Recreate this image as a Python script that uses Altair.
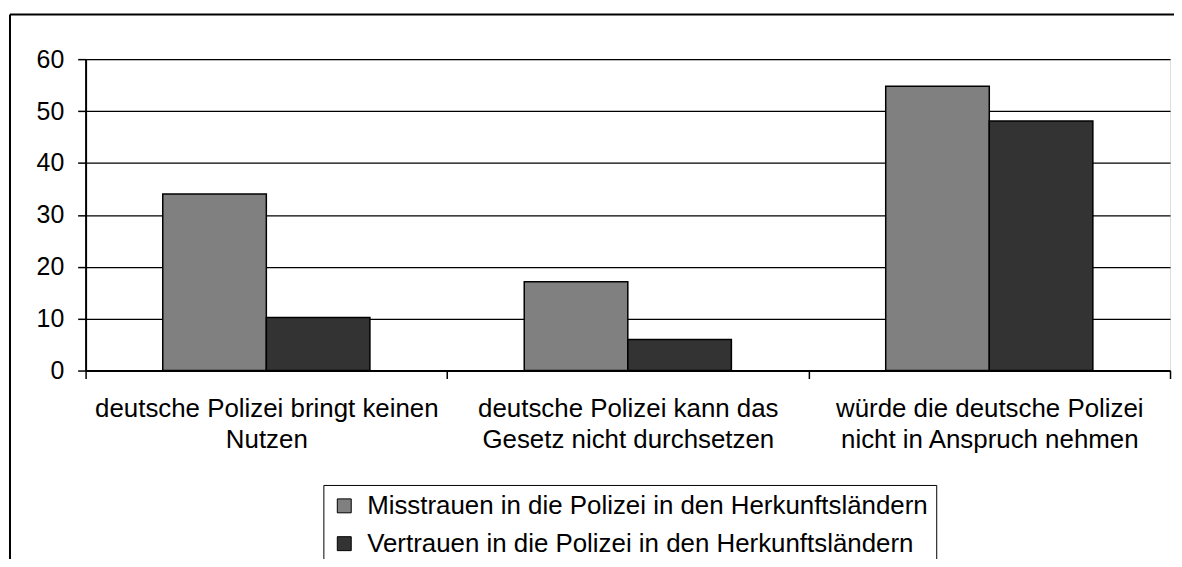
import altair as alt
import pandas as pd

categories = [
    "deutsche Polizei bringt keinen\nNutzen",
    "deutsche Polizei kann das\nGesetz nicht durchsetzen",
    "würde die deutsche Polizei\nnicht in Anspruch nehmen",
]
series = [
    "Misstrauen in die Polizei in den Herkunftsländern",
    "Vertrauen in die Polizei in den Herkunftsländern",
]
misstrauen = [34.0, 17.1, 54.8]
vertrauen = [10.2, 6.0, 48.1]
y_ticks = [0, 10, 20, 30, 40, 50, 60]
colors = ["#808080", "#333333"]

rows = []
for c, m, v in zip(categories, misstrauen, vertrauen):
    rows.append({"Kategorie": c, "Reihe": series[0], "Wert": m})
    rows.append({"Kategorie": c, "Reihe": series[1], "Wert": v})
df = pd.DataFrame(rows)

FONT = "Liberation Sans"

bars = alt.Chart(df).mark_bar(stroke="black", strokeWidth=1.5).encode(
    x=alt.X(
        "Kategorie:N",
        sort=categories,
        scale=alt.Scale(paddingInner=0, paddingOuter=0),
        axis=alt.Axis(
            title=None,
            labelAngle=0,
            labelFontSize=26,
            labelLineHeight=31,
            labelPadding=17,
            labelLimit=500,
            labelColor="black",
            labelFont=FONT,
            labelExpr="split(datum.label, '\\n')",
            tickBand="extent",
            tickSize=8,
            tickColor="black",
            tickWidth=1.5,
            domainColor="black",
            domainWidth=2,
            grid=False,
        ),
    ),
    xOffset=alt.XOffset(
        "Reihe:N",
        sort=series,
        scale=alt.Scale(paddingInner=0, paddingOuter=0.745),
    ),
    y=alt.Y(
        "Wert:Q",
        scale=alt.Scale(domain=[0, 60], nice=False),
        axis=alt.Axis(
            title=None,
            values=y_ticks,
            labelFontSize=25,
            labelPadding=14,
            labelColor="black",
            labelFont=FONT,
            tickSize=8,
            tickColor="black",
            tickWidth=1.5,
            domainColor="black",
            domainWidth=2,
            grid=True,
            gridColor="black",
            gridWidth=1.3,
        ),
    ),
    fill=alt.Fill(
        "Reihe:N",
        sort=series,
        scale=alt.Scale(domain=series, range=colors),
        legend=alt.Legend(
            title=None,
            orient="none",
            legendX=239,
            legendY=428,
            direction="vertical",
            columns=1,
            symbolType="square",
            symbolSize=196,
            symbolStrokeColor="black",
            symbolStrokeWidth=1,
            labelFontSize=26,
            labelFont=FONT,
            labelColor="black",
            labelLimit=800,
            labelOffset=10,
            rowPadding=12,
            padding=8,
            strokeColor="black",
            fillColor="white",
        ),
    ),
)

frame_df = pd.DataFrame({"a": [0]})
frame_top = alt.Chart(frame_df).mark_rule(color="black", strokeWidth=2).encode(
    x=alt.value(-76), x2=alt.value(1200), y=alt.value(-45)
)
frame_left = alt.Chart(frame_df).mark_rule(color="black", strokeWidth=2).encode(
    x=alt.value(-76), y=alt.value(-45), y2=alt.value(700)
)

chart = alt.layer(frame_top, frame_left, bars).properties(
    width=1090,
    height=313,
    autosize=alt.AutoSizeParams(type="none"),
    padding={"left": 78, "top": 50, "right": 4, "bottom": 188},
    background="white",
).configure_view(
    stroke="#808080", strokeWidth=2
).configure(font=FONT)

chart.save("out.html", embed_options={"renderer": "svg", "actions": False})
